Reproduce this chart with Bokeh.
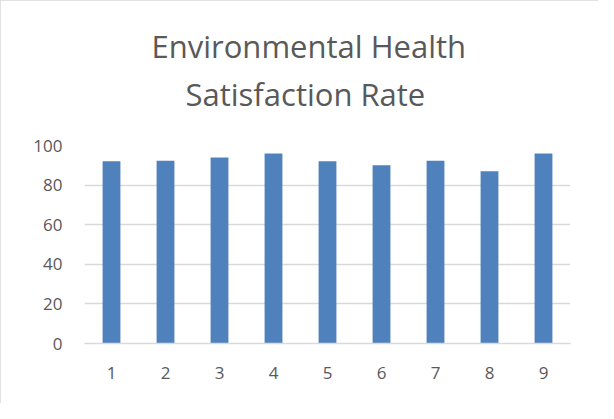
from bokeh.plotting import figure
from bokeh.models import Range1d, FixedTicker, Title, ColumnDataSource, InlineStyleSheet
from bokeh.embed import file_html
from bokeh.resources import INLINE

categories = [1, 2, 3, 4, 5, 6, 7, 8, 9]
values = [92, 92.3, 94, 96, 92, 90, 92.3, 87, 96]
y_ticks = [0, 20, 40, 60, 80, 100]
title_lines = ["Environmental Health", "Satisfaction Rate"]

FONT = "Open Sans"
TXT = "#595959"
W, H = 598, 403

src = ColumnDataSource(dict(x=categories, top=values))

p = figure(width=W, height=H, output_backend="svg", toolbar_location=None,
           x_range=Range1d(0.5, 9.5), y_range=Range1d(0, 100),
           min_border_left=84, min_border_right=28, min_border_bottom=60, min_border_top=145)
p.title.text = ""
p.vbar(x="x", top="top", width=0.33, source=src, fill_color="#4F81BD", line_color=None)

# spacer between plot area and title block
p.add_layout(Title(text=" ", text_font_size="1px", standoff=26), "above")
p.add_layout(Title(text=title_lines[1], align="left", offset=101, text_font=FONT, text_font_size="31px",
                   text_color=TXT, text_font_style="normal", standoff=4), "above")
p.add_layout(Title(text=title_lines[0], align="left", offset=67, text_font=FONT, text_font_size="31px",
                   text_color=TXT, text_font_style="normal", standoff=4), "above")

p.xaxis.ticker = FixedTicker(ticks=categories)
p.yaxis.ticker = FixedTicker(ticks=y_ticks)
for ax in (p.xaxis, p.yaxis):
    ax.major_tick_line_color = None
    ax.minor_tick_line_color = None
    ax.major_label_text_font = FONT
    ax.major_label_text_font_size = "17px"
    ax.major_label_text_color = TXT
p.xaxis.axis_line_color = "#D9D9D9"
p.xaxis.axis_line_width = 1.5
p.yaxis.axis_line_color = None
p.yaxis.major_label_standoff = 16
p.xaxis.major_label_standoff = 17
p.xgrid.grid_line_color = None
p.ygrid.grid_line_color = "#D9D9D9"
p.ygrid.grid_line_width = 1.5
p.outline_line_color = None
p.stylesheets = [InlineStyleSheet(css=":host { outline: 1px solid #D9D9D9; outline-offset: -1px; }")]

open("out.html", "w").write(file_html(p, INLINE))
